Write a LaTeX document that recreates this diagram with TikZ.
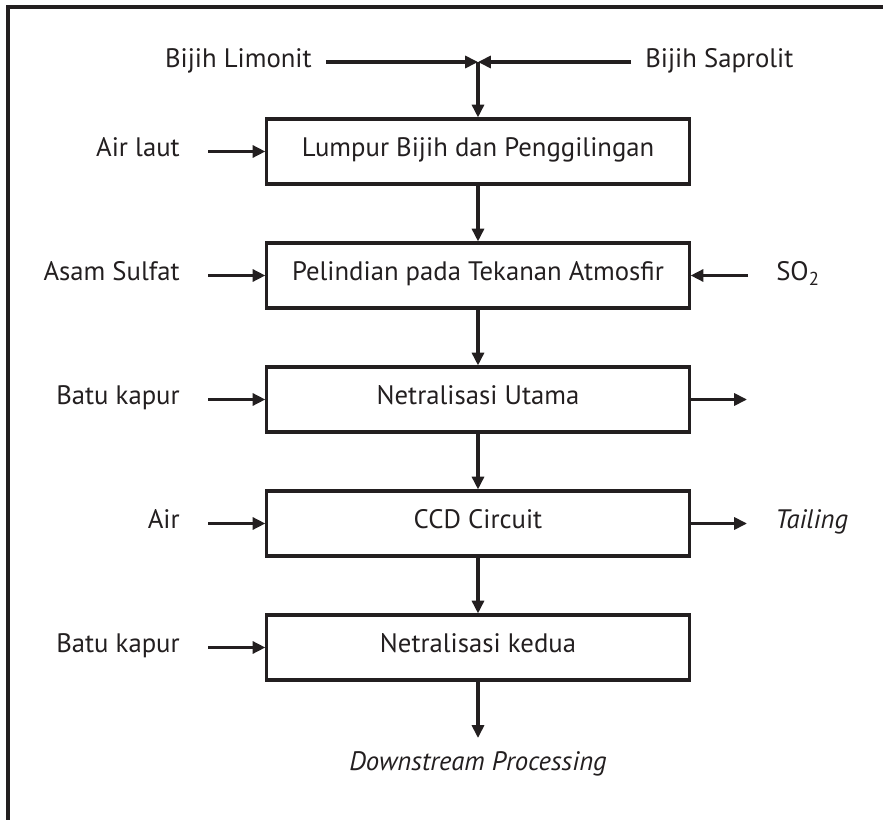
\documentclass[tikz,border=0pt]{standalone}
\usepackage{fontspec}
\setmainfont{PT Sans}
\usetikzlibrary{arrows.meta, positioning}
\definecolor{ink}{HTML}{231F20}

\begin{document}
\begin{tikzpicture}[x=0.025cm, y=-0.025cm,
  every node/.style={align=center, text=ink, font=\fontsize{19}{22}\selectfont, text height=0.9em, text depth=0.15em},
  % Process units
  unit/.style={rectangle, draw=ink, line width=2.2pt, minimum width=10.55cm, minimum height=1.625cm, inner sep=0pt},
  % Feed labels (left side)
  feed/.style={anchor=east, inner xsep=0.7cm, inner ysep=0pt},
  % Ore labels (top)
  ore/.style={inner xsep=0.35cm, inner ysep=0pt},
  % Stream labels (right side)
  stream/.style={anchor=west, inner xsep=0.7cm, inner ysep=0pt},
  % Arrows
  flow/.style={draw=ink, line width=2.2pt, -{Triangle[length=0.32cm, width=0.3cm]}},
  % Outer frame
  frame/.style={draw=ink, line width=2.2pt}
]
\useasboundingbox (0,0) rectangle (883,820);

% === Frame ===
\draw[frame] (8,820) -- (8,7) -- (883,7);

% === Ore feed ===
\coordinate (join) at (478,62);
\node[ore, anchor=east] (limonit) at (326,62) {Bijih Limonit};
\node[ore, anchor=west] (saprolit) at (631,62) {Bijih Saprolit};

\draw[flow] (limonit) -- (join);
\draw[flow] (saprolit) -- (join);

% === Process units ===
\node[unit] (slurry) at (478,151.5) {Lumpur Bijih dan Penggilingan};
\node[unit] (leach) at (478,275.5) {Pelindian pada Tekanan Atmosfir};
\node[unit] (neut1) at (478,399.5) {Netralisasi Utama};
\node[unit] (ccd) at (478,523.5) {CCD Circuit};
\node[unit] (neut2) at (478,647.5) {Netralisasi kedua};

% Main flow
\draw[flow] (join) -- (slurry);
\draw[flow] (slurry) -- (leach);
\draw[flow] (leach) -- (neut1);
\draw[flow] (neut1) -- (ccd);
\draw[flow] (ccd) -- (neut2);

% === Feeds (left) ===
\node[feed] (airlaut) at (208,151.5) {Air laut};
\node[feed] (asam) at (208,275.5) {Asam Sulfat};
\node[feed] (kapur1) at (208,399.5) {Batu kapur};
\node[feed] (air) at (208,523.5) {Air};
\node[feed] (kapur2) at (208,647.5) {Batu kapur};

\draw[flow] (airlaut) -- (slurry);
\draw[flow] (asam) -- (leach);
\draw[flow] (kapur1) -- (neut1);
\draw[flow] (air) -- (ccd);
\draw[flow] (kapur2) -- (neut2);

% === Streams (right) ===
\node[stream] (so2) at (748,275.5) {SO\textsubscript{2}};
\coordinate (overflow) at (747,399.5);
\node[stream] (tailing) at (747,523.5) {\itshape Tailing};

\draw[flow] (so2) -- (leach);
\draw[flow] (neut1) -- (overflow);
\draw[flow] (ccd) -- (tailing);

% === Product ===
\node[anchor=north, inner ysep=0.49cm] (downstream) at (478,738) {\itshape Downstream Processing};
\draw[flow] (neut2) -- (downstream);

\end{tikzpicture}
\end{document}
